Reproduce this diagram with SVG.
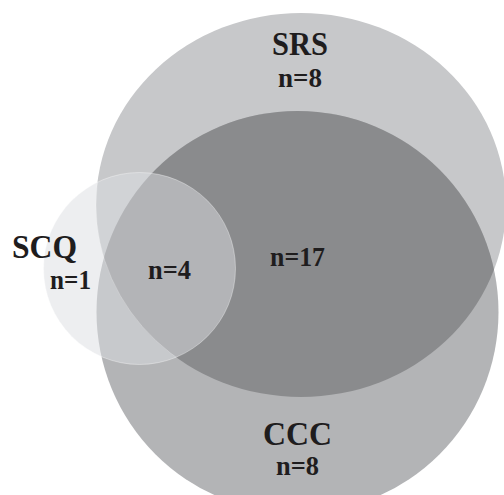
<svg xmlns="http://www.w3.org/2000/svg" width="504" height="495" viewBox="0 0 504 495">
  <style>
    .lbl { font-family: "Liberation Serif", "Times New Roman", serif; font-weight: bold; fill: #1f1d1e; text-anchor: middle; }
    .big { font-size: 33px; }
    .num { font-size: 28px; }
  </style>
  <defs>
    <clipPath id="clipCCC">
      <circle cx="297.5" cy="312" r="201"/>
    </clipPath>
    <clipPath id="clipSCQ">
      <circle cx="139.5" cy="268.5" r="96"/>
    </clipPath>
  </defs>
  <rect x="0" y="0" width="504" height="495" fill="#ffffff"/>
  <g id="SRS">
    <ellipse cx="301" cy="205" rx="205" ry="192" fill="#c7c8ca"/>
  </g>
  <g id="CCC">
    <circle cx="297.5" cy="312" r="201" fill="#b3b4b6"/>
  </g>
  <g id="SRS_CCC">
    <ellipse cx="301" cy="205" rx="205" ry="192" fill="#8a8b8d" clip-path="url(#clipCCC)"/>
  </g>
  <g id="SCQ">
    <circle cx="139.5" cy="268.5" r="96" fill="#dcdde2" fill-opacity="0.5" stroke="#ffffff" stroke-opacity="0.35" stroke-width="1"/>
    <ellipse cx="301" cy="205" rx="205" ry="192" fill="none" stroke="#ffffff" stroke-opacity="0.3" stroke-width="0.8" clip-path="url(#clipSCQ)"/>
  </g>
  <g id="connectors"/>
  <g id="labels">
    <text class="lbl big" x="300" y="55" textLength="56" lengthAdjust="spacingAndGlyphs">SRS</text>
    <text class="lbl num" x="300" y="87" textLength="44" lengthAdjust="spacingAndGlyphs">n=8</text>
    <text class="lbl num" x="297.5" y="266" textLength="55" lengthAdjust="spacingAndGlyphs">n=17</text>
    <text class="lbl num" x="169.5" y="279" textLength="43" lengthAdjust="spacingAndGlyphs">n=4</text>
    <text class="lbl big" x="44.5" y="258" textLength="65" lengthAdjust="spacingAndGlyphs">SCQ</text>
    <text class="lbl num" x="70.5" y="289" textLength="41" lengthAdjust="spacingAndGlyphs">n=1</text>
    <text class="lbl big" x="297.5" y="445" textLength="69" lengthAdjust="spacingAndGlyphs">CCC</text>
    <text class="lbl num" x="297.5" y="475" textLength="43" lengthAdjust="spacingAndGlyphs">n=8</text>
  </g>
</svg>
